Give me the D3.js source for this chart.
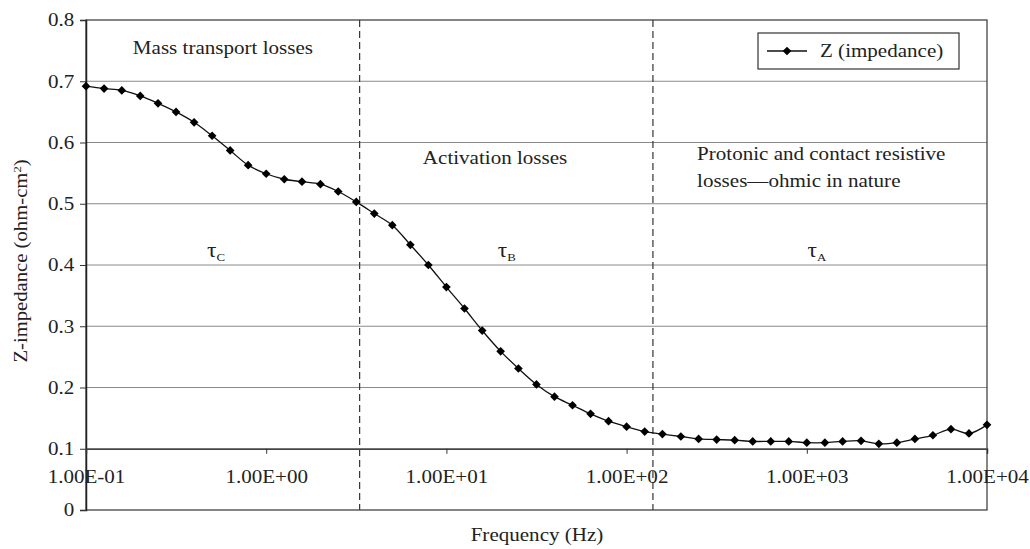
<!DOCTYPE html>
<html><head><meta charset="utf-8">
<script src="https://cdn.jsdelivr.net/npm/d3@7/dist/d3.min.js"></script>
<style>body{margin:0;background:#fff;} svg{display:block;} text{font-family:"Liberation Serif","Times New Roman",serif;fill:#222;}</style>
</head><body>
<svg id="chart" width="1030" height="549"></svg>
<script>
const frequency = [0.1,0.126,0.158,0.2,0.251,0.316,0.398,0.501,0.631,0.794,
 1,1.26,1.58,2.0,2.51,3.16,3.98,5.01,6.31,7.94,
 10,12.6,15.8,20,25.1,31.6,39.8,50.1,63.1,79.4,
 100,126,158,200,251,316,398,501,631,794,
 1000,1260,1580,2000,2510,3160,3980,5010,6310,7940,10000];
const impedance = [0.692,0.688,0.685,0.676,0.664,0.650,0.633,0.611,0.587,0.563,
 0.549,0.540,0.536,0.532,0.520,0.503,0.484,0.465,0.433,0.400,
 0.364,0.329,0.293,0.259,0.231,0.205,0.185,0.171,0.157,0.145,
 0.136,0.128,0.124,0.120,0.116,0.115,0.114,0.112,0.112,0.112,
 0.110,0.110,0.112,0.113,0.108,0.110,0.116,0.122,0.132,0.125,0.139];
const xTickValues = [0.1,1,10,100,1000,10000];
const xTickLabels = ["1.00E-01","1.00E+00","1.00E+01","1.00E+02","1.00E+03","1.00E+04"];
const yTickValues = [0,0.1,0.2,0.3,0.4,0.5,0.6,0.7,0.8];
const yTickLabels = ["0","0.1","0.2","0.3","0.4","0.5","0.6","0.7","0.8"];
const regionBounds = [3.3,140];
const regionLabels = [
 {f:0.182, v:0.745, lines:["Mass transport losses"]},
 {f:7.4, v:0.565, lines:["Activation losses"]},
 {f:246, v:0.571, lines:["Protonic and contact resistive","losses\u2014ohmic in nature"]}
];
const tauLabels = [{f:0.47, sub:"C"},{f:19.3, sub:"B"},{f:1010, sub:"A"}];

const SX = 1.17;
const svg = d3.select("#chart");
const L=86, R=987, T=20, B=510;
const x = d3.scaleLog().domain([0.1,10000]).range([L,R]);
const y = d3.scaleLinear().domain([0,0.8]).range([B,T]);

// gridlines
svg.append("g").selectAll("line").data(yTickValues.filter(v=>v>0&&v<0.8)).join("line")
 .attr("x1",L).attr("x2",R).attr("y1",d=>y(d)).attr("y2",d=>y(d))
 .attr("stroke","#8a8a8a").attr("stroke-width",1);

// border
svg.append("rect").attr("x",L).attr("y",T).attr("width",R-L).attr("height",B-T)
 .attr("fill","none").attr("stroke","#444").attr("stroke-width",1.3);

// region dividers
svg.append("g").selectAll("line").data(regionBounds).join("line")
 .attr("x1",d=>x(d)).attr("x2",d=>x(d)).attr("y1",T).attr("y2",B)
 .attr("stroke","#333").attr("stroke-width",1.2).attr("stroke-dasharray","7,4");

// y axis
const yAxis = d3.axisLeft(y).tickValues(yTickValues).tickSize(6).tickPadding(4)
 .tickFormat((d,i)=>yTickLabels[i]);
const gy = svg.append("g").attr("transform",`translate(${L},0)`).call(yAxis);
gy.select(".domain").attr("stroke","#222").attr("stroke-width",1.5);
gy.selectAll(".tick line").attr("stroke","#333");
gy.selectAll("text").style("font-size","18px").style("font-family","Liberation Serif").attr("fill","#222")
 .attr("transform",`scale(${SX},1)`);

// x axis at y=0.1
const xAxis = d3.axisBottom(x).tickValues(xTickValues).tickSize(5).tickPadding(16)
 .tickFormat((d,i)=>xTickLabels[i]);
const gx = svg.append("g").attr("transform",`translate(0,${y(0.1)})`).call(xAxis);
gx.select(".domain").attr("stroke","#444").attr("stroke-width",1.5);
gx.selectAll(".tick line").attr("stroke","#333");
gx.selectAll("text").style("font-size","18px").style("font-family","Liberation Serif").attr("fill","#222")
 .attr("transform",`scale(${SX},1)`);

// line
const pts = frequency.map((f,i)=>({f, v:impedance[i]}));
svg.append("path").datum(pts)
 .attr("d", d3.line().x(d=>x(d.f)).y(d=>y(d.v)).curve(d3.curveCatmullRom))
 .attr("fill","none").attr("stroke","#111").attr("stroke-width",1.3);
svg.append("g").selectAll("path").data(pts).join("path")
 .attr("transform",d=>`translate(${x(d.f)},${y(d.v)})`)
 .attr("d", d3.symbol(d3.symbolDiamond2, 48)).attr("fill","#000");

// helper for horizontally widened text
function wtext(px, py, size, anchor){
 return svg.append("text").attr("transform",`translate(${px},${py}) scale(${SX},1)`)
  .attr("text-anchor",anchor||"start").style("font-size",size+"px");
}

// region labels
regionLabels.forEach(r=>{
 const t = wtext(x(r.f), y(r.v), 18);
 r.lines.forEach((ln,i)=>t.append("tspan").attr("x",0).attr("dy",i?"1.5em":0).text(ln));
});
tauLabels.forEach(tl=>{
 const t = wtext(x(tl.f), y(0.4)-8, 20);
 t.append("tspan").text("\u03c4");
 t.append("tspan").attr("dy",4).style("font-size","11px").text(tl.sub);
});

// legend
const lg = svg.append("g");
lg.append("rect").attr("x",758).attr("y",33).attr("width",201).attr("height",36)
 .attr("fill","#fff").attr("stroke","#333").attr("stroke-width",1.2);
lg.append("line").attr("x1",767).attr("x2",807).attr("y1",51).attr("y2",51).attr("stroke","#111").attr("stroke-width",1.3);
lg.append("path").attr("transform","translate(787,51)").attr("d",d3.symbol(d3.symbolDiamond2,48)).attr("fill","#000");
wtext(820, 57, 18).text("Z (impedance)");

// axis titles
wtext(537, 541, 18, "middle").text("Frequency (Hz)");
const yt = svg.append("text").attr("transform",`translate(27,261) rotate(-90) scale(${SX-0.02},1)`)
 .attr("text-anchor","middle").style("font-size","18px");
yt.append("tspan").text("Z-impedance (ohm-cm");
yt.append("tspan").attr("dy",-6).style("font-size","11px").text("2");
yt.append("tspan").attr("dy",6).text(")");
</script>
</body></html>
